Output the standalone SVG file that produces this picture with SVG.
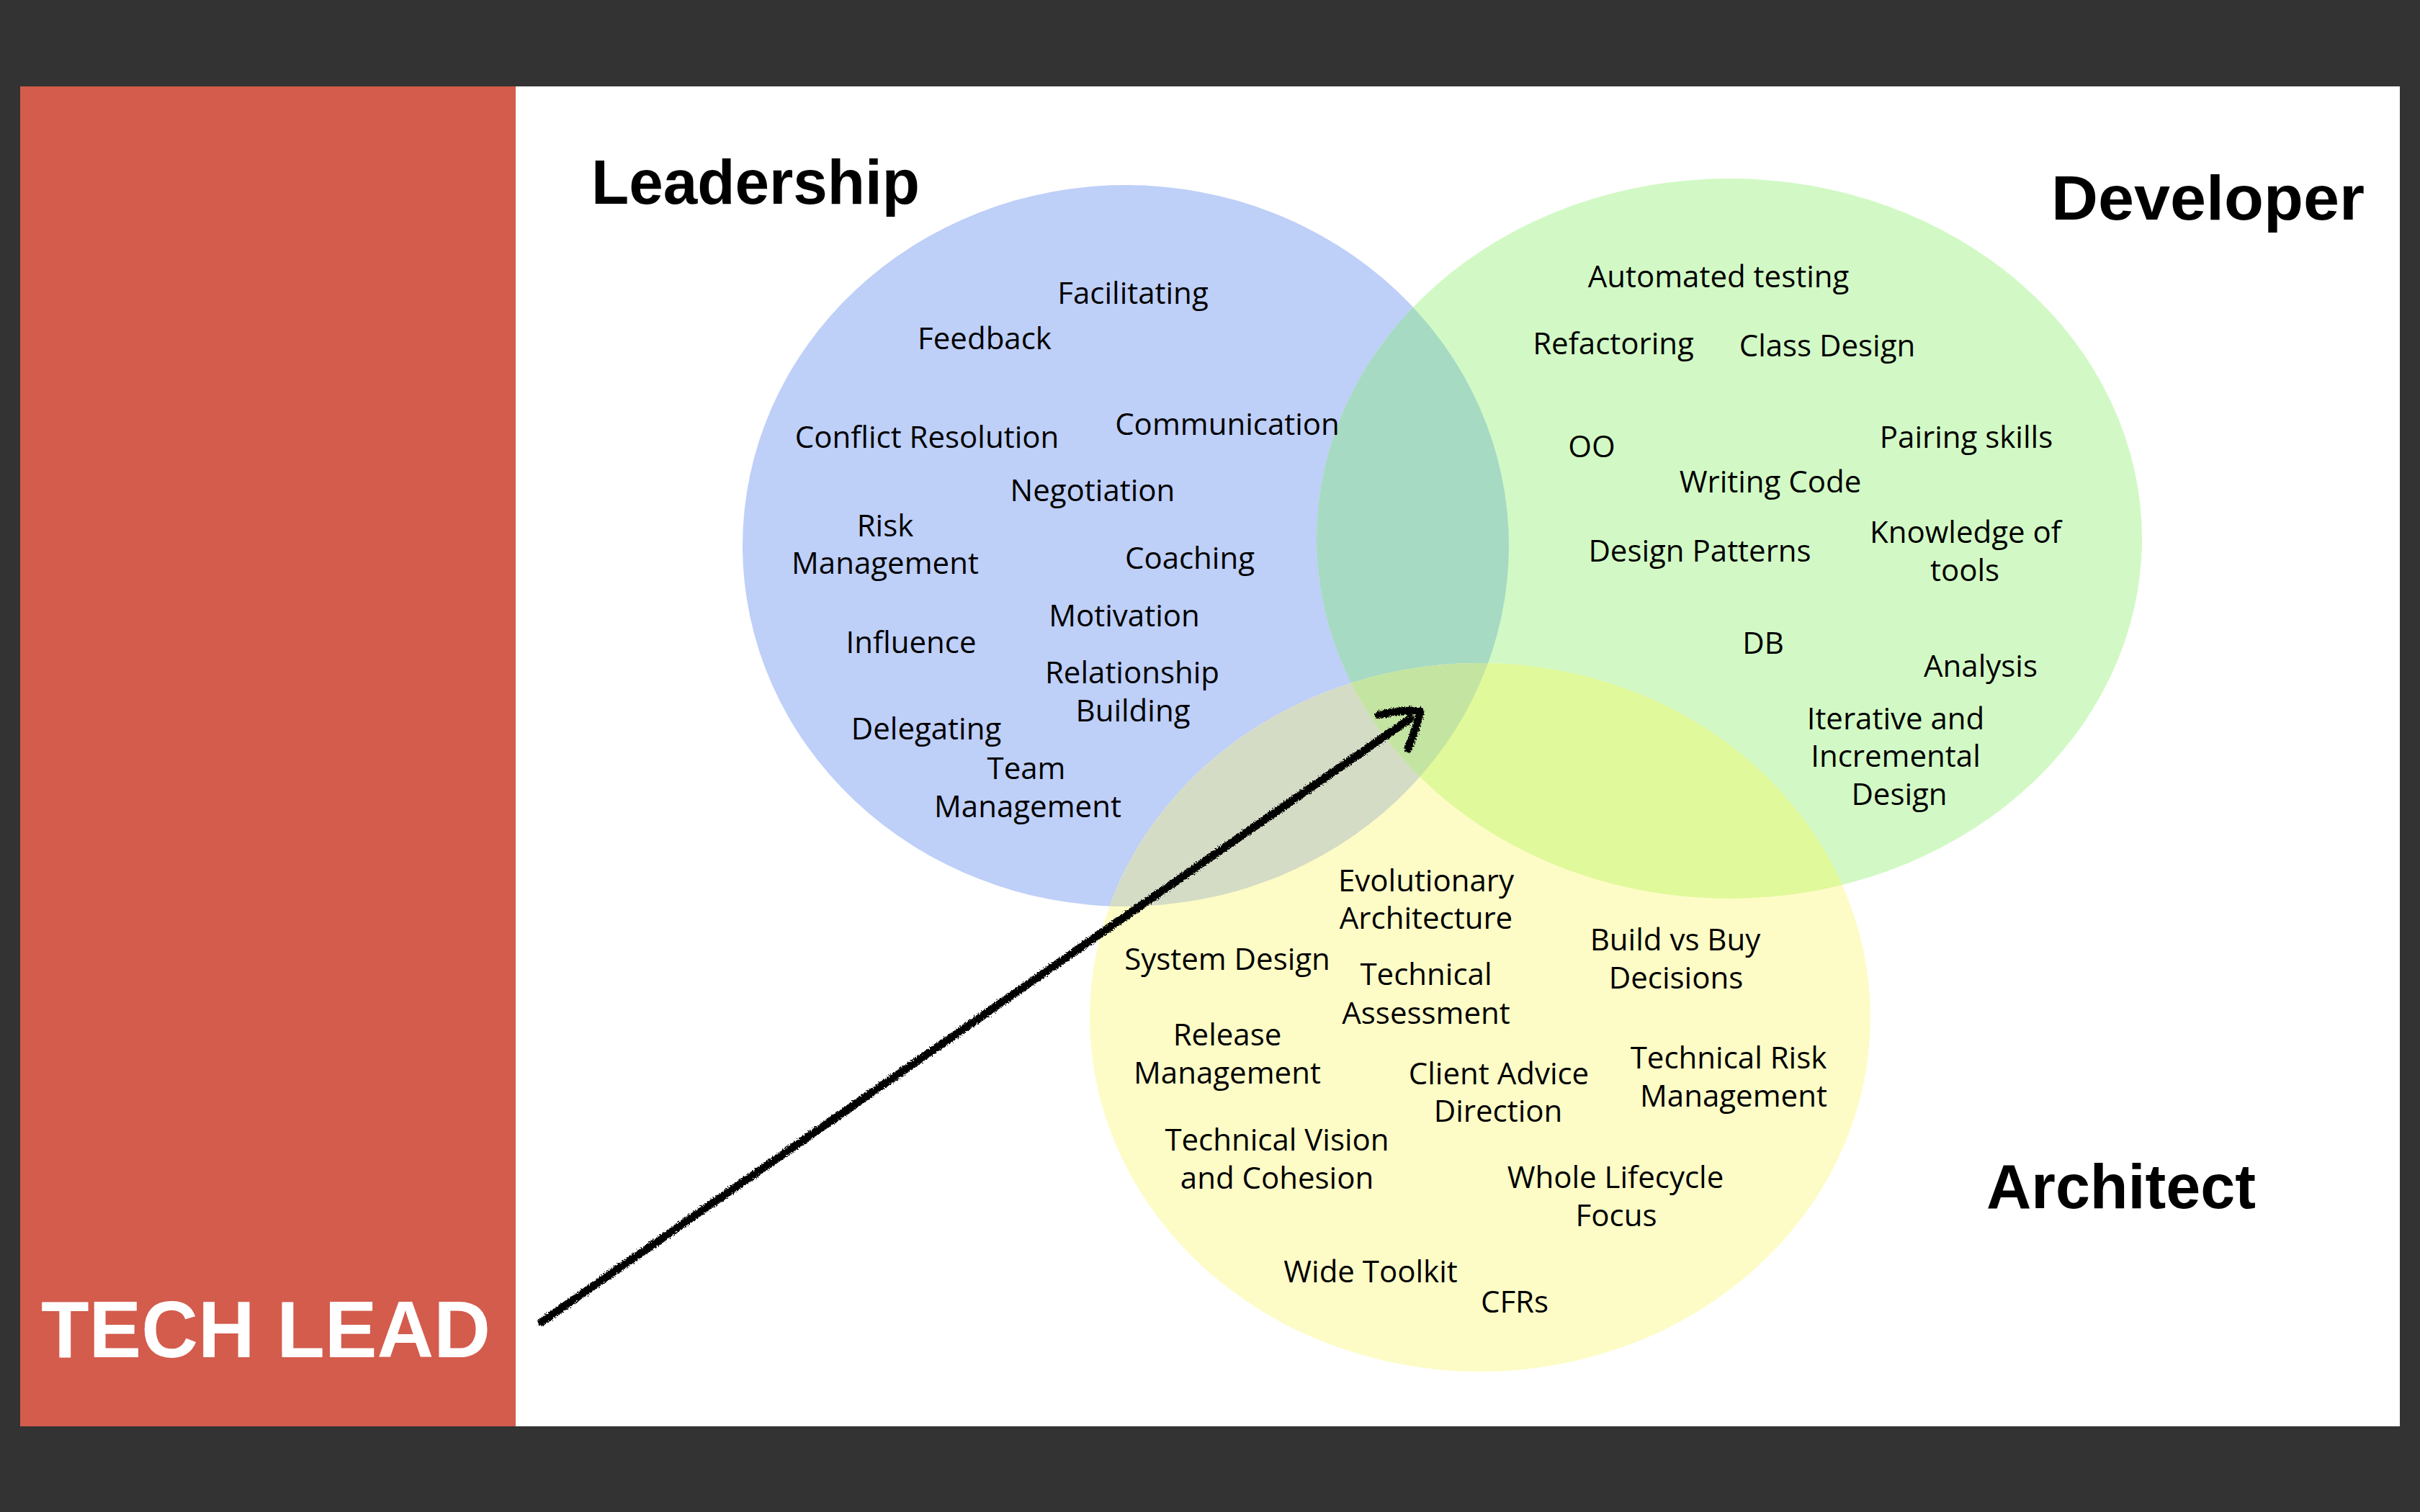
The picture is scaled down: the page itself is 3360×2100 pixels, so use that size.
<svg xmlns="http://www.w3.org/2000/svg" width="3360" height="2100" viewBox="0 0 3360 2100">
<style>
.lbl{font-family:"Open Sans","Liberation Sans",sans-serif;font-size:42px;font-weight:500;fill:#000;text-anchor:middle}
.ttl{font-family:"Liberation Sans",Arial,sans-serif;font-weight:bold;font-size:87px;fill:#000}
</style>
<defs>
<ellipse id="eB" cx="1563" cy="758" rx="532" ry="501"/>
<ellipse id="eG" cx="2401" cy="748" rx="573" ry="500"/>
<ellipse id="eY" cx="2055" cy="1413" rx="542" ry="492"/>
<clipPath id="cB"><use href="#eB"/></clipPath>
<clipPath id="cG"><use href="#eG"/></clipPath>
<filter id="rough" x="-5%" y="-5%" width="110%" height="110%">
<feTurbulence type="fractalNoise" baseFrequency="0.5" numOctaves="3" seed="7"/>
<feDisplacementMap in="SourceGraphic" scale="8" xChannelSelector="R" yChannelSelector="G"/>
</filter>
</defs>
<rect x="0" y="0" width="3360" height="2100" fill="#333333"/>
<rect x="28" y="120" width="3304" height="1861" fill="#ffffff"/>
<rect x="28" y="120" width="688" height="1861" fill="#D35C4C"/>
<text x="57" y="1885" textLength="624" lengthAdjust="spacingAndGlyphs" style="font-family:'Liberation Sans',Arial,sans-serif;font-weight:bold;font-size:112px;fill:#fff">TECH LEAD</text>

<g id="circles">
<use href="#eB" fill="#BECFF8"/>
<use href="#eG" fill="#D2F9C5"/>
<use href="#eG" fill="#A6DAC3" clip-path="url(#cB)"/>
<use href="#eY" fill="#FDFCC6"/>
<use href="#eY" fill="#D4DCC6" clip-path="url(#cB)"/>
<use href="#eY" fill="#E0F99B" clip-path="url(#cG)"/>
<g clip-path="url(#cG)"><use href="#eY" fill="#C4E4A2" clip-path="url(#cB)"/></g>
</g>

<g id="leadership">
<text class="ttl" x="821" y="283" textLength="456" lengthAdjust="spacingAndGlyphs">Leadership</text>
<text class="lbl" x="1573" y="422">Facilitating</text>
<text class="lbl" x="1367" y="485">Feedback</text>
<text class="lbl" x="1704" y="604">Communication</text>
<text class="lbl" x="1287" y="622">Conflict Resolution</text>
<text class="lbl" x="1517" y="696">Negotiation</text>
<text class="lbl" x="1229" y="745">Risk</text>
<text class="lbl" x="1229" y="797">Management</text>
<text class="lbl" x="1652" y="790">Coaching</text>
<text class="lbl" x="1561" y="870">Motivation</text>
<text class="lbl" x="1265" y="907">Influence</text>
<text class="lbl" x="1572" y="949">Relationship</text>
<text class="lbl" x="1573" y="1002">Building</text>
<text class="lbl" x="1286" y="1027">Delegating</text>
<text class="lbl" x="1425" y="1082">Team</text>
<text class="lbl" x="1427" y="1135">Management</text>
</g>

<g id="developer">
<text class="ttl" x="2848" y="305" textLength="435" lengthAdjust="spacingAndGlyphs">Developer</text>
<text class="lbl" x="2386" y="399">Automated testing</text>
<text class="lbl" x="2240" y="492">Refactoring</text>
<text class="lbl" x="2537" y="495">Class Design</text>
<text class="lbl" x="2210" y="635">OO</text>
<text class="lbl" x="2730" y="622">Pairing skills</text>
<text class="lbl" x="2458" y="684">Writing Code</text>
<text class="lbl" x="2360" y="780">Design Patterns</text>
<text class="lbl" x="2729" y="754">Knowledge of</text>
<text class="lbl" x="2728" y="807">tools</text>
<text class="lbl" x="2448" y="908">DB</text>
<text class="lbl" x="2750" y="940">Analysis</text>
<text class="lbl" x="2632" y="1013">Iterative and</text>
<text class="lbl" x="2632" y="1065">Incremental</text>
<text class="lbl" x="2637" y="1118">Design</text>
</g>

<g id="architect">
<text class="ttl" x="2758" y="1678" textLength="374" lengthAdjust="spacingAndGlyphs">Architect</text>
<text class="lbl" x="1980" y="1238">Evolutionary</text>
<text class="lbl" x="1980" y="1290">Architecture</text>
<text class="lbl" x="1704" y="1347">System Design</text>
<text class="lbl" x="1980" y="1368">Technical</text>
<text class="lbl" x="1980" y="1422">Assessment</text>
<text class="lbl" x="2326" y="1320">Build vs Buy</text>
<text class="lbl" x="2327" y="1373">Decisions</text>
<text class="lbl" x="1704" y="1452">Release</text>
<text class="lbl" x="1704" y="1505">Management</text>
<text class="lbl" x="2081" y="1506">Client Advice</text>
<text class="lbl" x="2080" y="1558">Direction</text>
<text class="lbl" x="2400" y="1484">Technical Risk</text>
<text class="lbl" x="2407" y="1537">Management</text>
<text class="lbl" x="1773" y="1598">Technical Vision</text>
<text class="lbl" x="1773" y="1651">and Cohesion</text>
<text class="lbl" x="2243" y="1650">Whole Lifecycle</text>
<text class="lbl" x="2244" y="1703">Focus</text>
<text class="lbl" x="1903" y="1781">Wide Toolkit</text>
<text class="lbl" x="2103" y="1823">CFRs</text>
</g>

<g id="connectors" fill="none" stroke="#000" stroke-linecap="round" stroke-linejoin="round" filter="url(#rough)">
<path d="M752 1836 L1958 998" stroke-width="11"/>
<path d="M1914 993 C1935 988 1955 986 1972 988 C1968 1005 1962 1022 1955 1040" stroke-width="11"/>
</g>
</svg>
